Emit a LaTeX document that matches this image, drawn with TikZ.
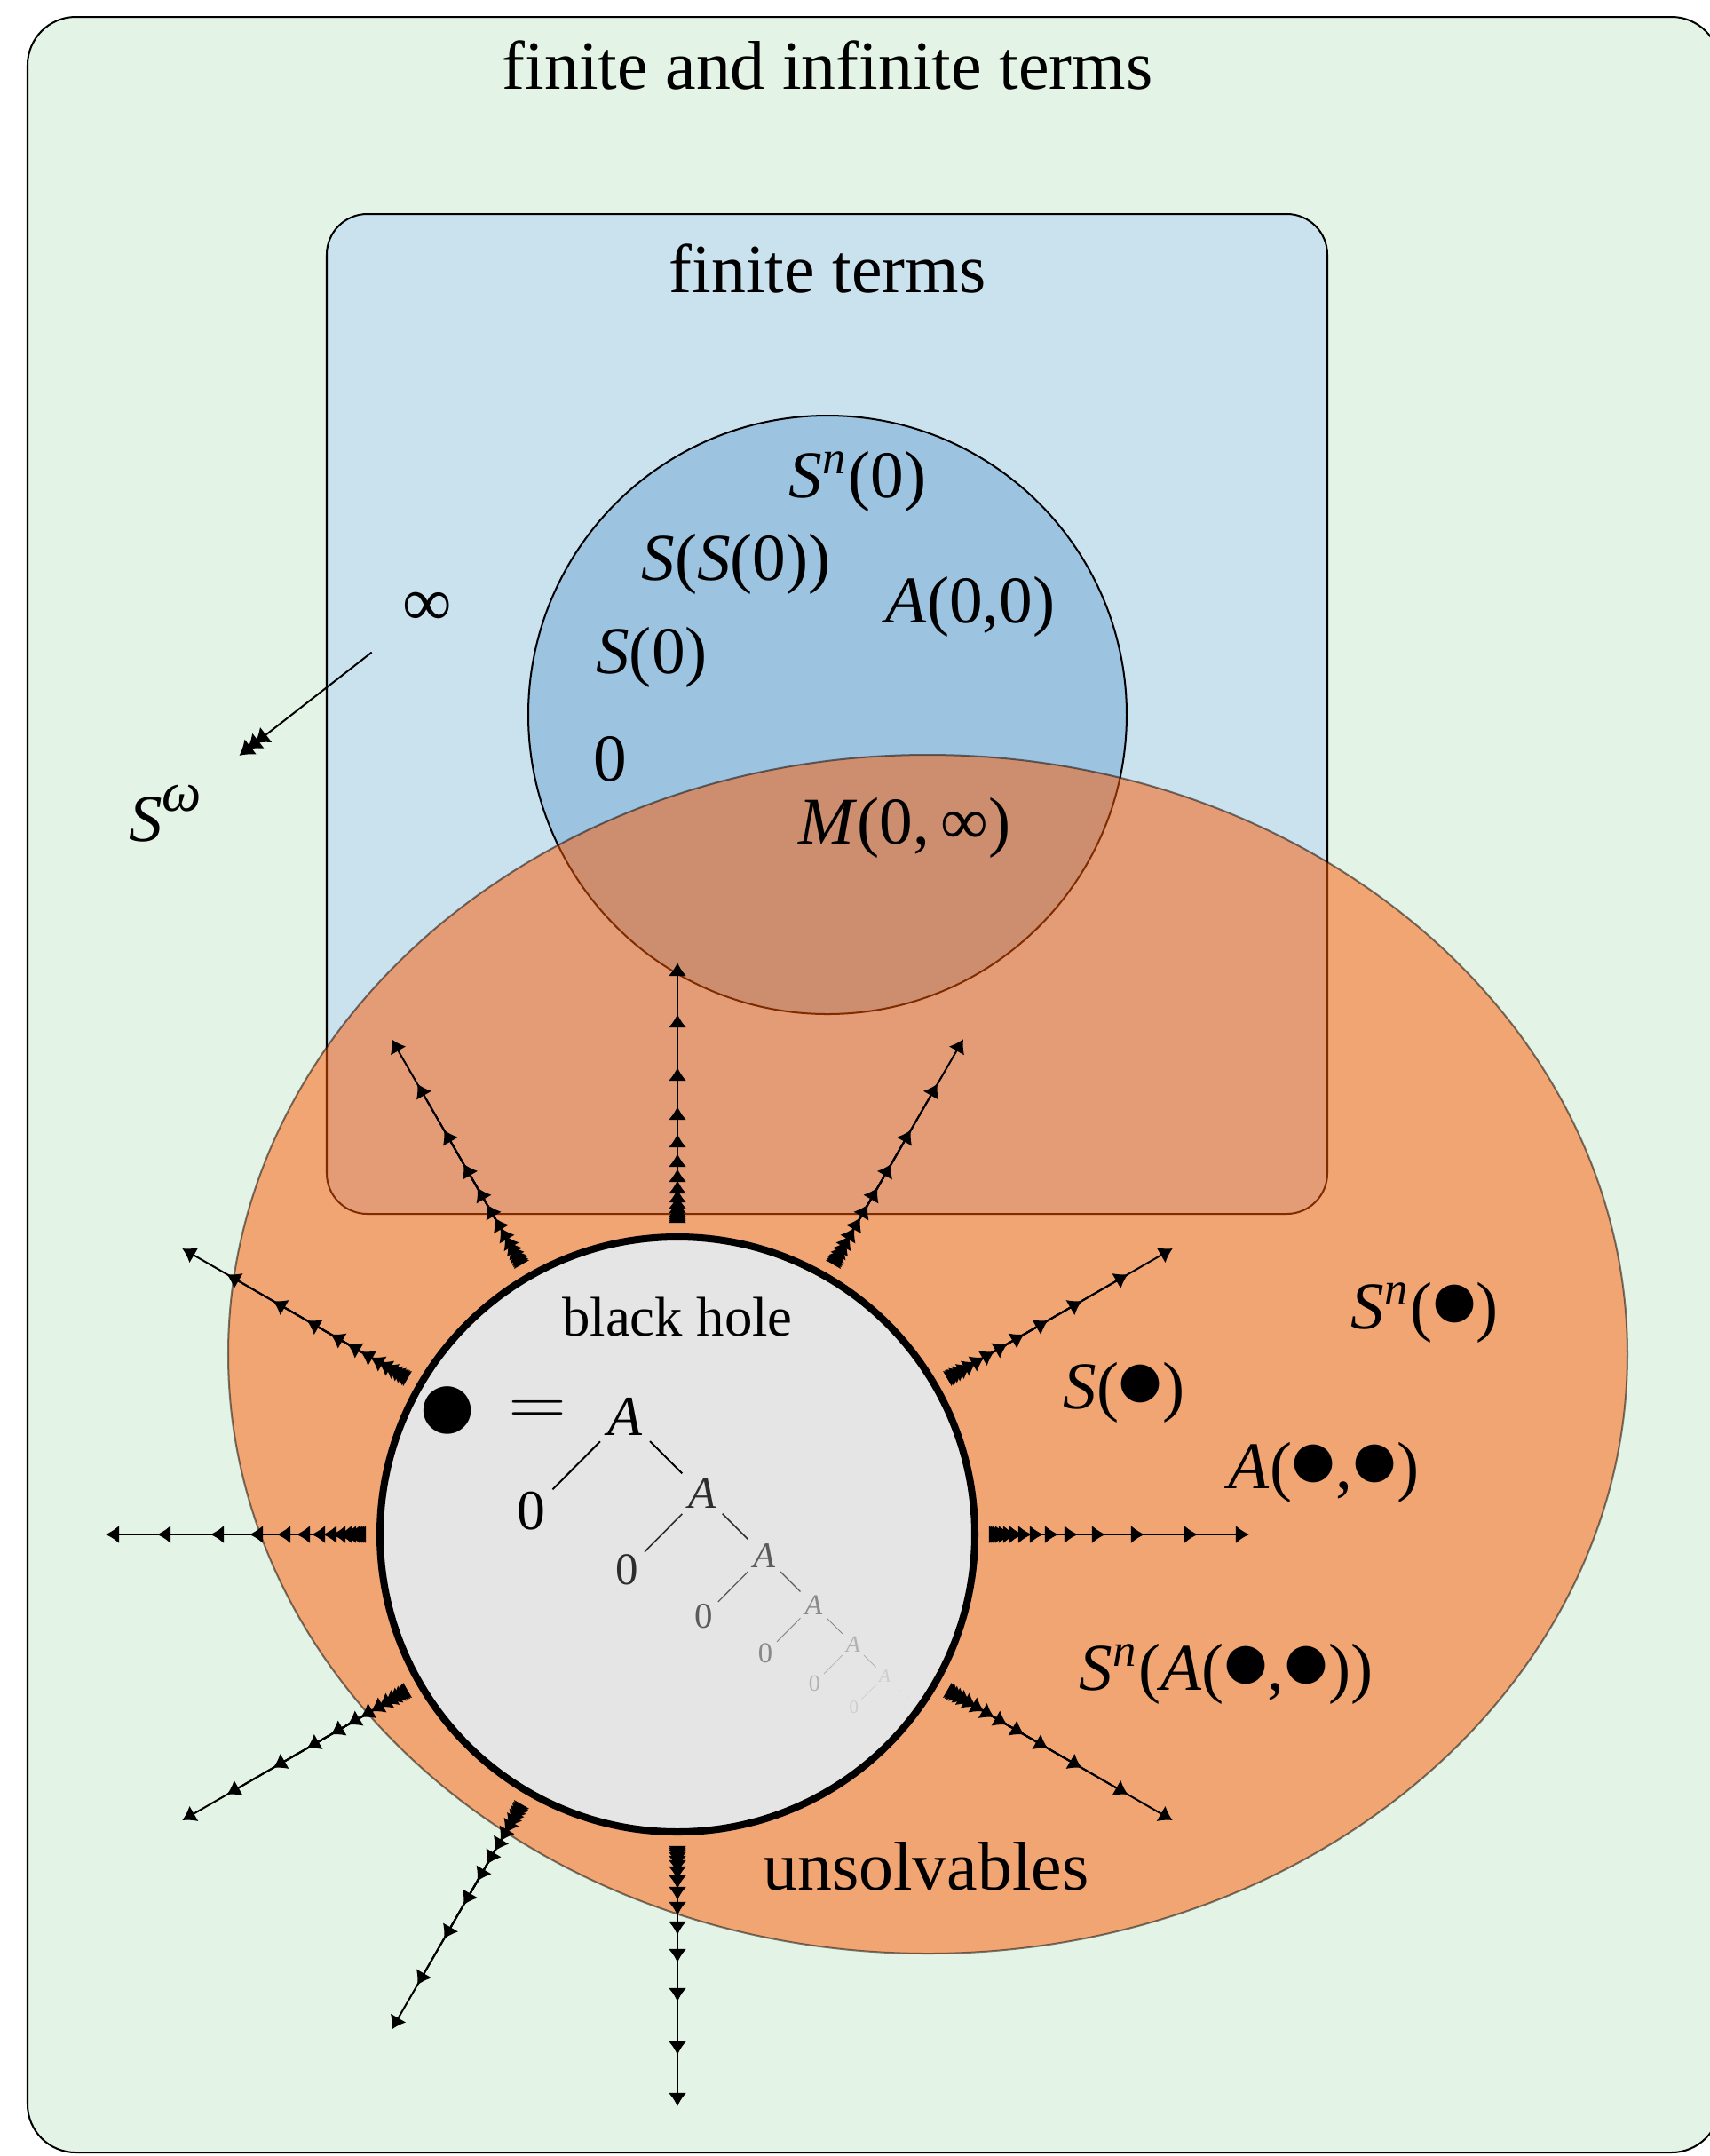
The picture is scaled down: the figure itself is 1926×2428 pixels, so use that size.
\documentclass[tikz,border=0pt]{standalone}
\usepackage{graphicx}
\usepackage{fontspec}
\setmainfont{Liberation Serif}
\usetikzlibrary{arrows.meta,positioning,calc}

\definecolor{allGreen}{RGB}{227,243,229}
\definecolor{finBlue}{RGB}{202,225,238}
\definecolor{natBlue}{RGB}{156,195,224}
\definecolor{unsOrange}{RGB}{254,88,0}
\definecolor{holeGray}{RGB}{229,229,229}

\newcommand{\tv}[1]{\textit{#1}}
\newcommand{\up}[1]{\textsuperscript{\textit{#1}}}
\newcommand{\bh}{\kern-0.07em\scalebox{1.32}{●}\kern-0.07em}

\begin{document}
\begin{tikzpicture}[x=0.007cm,y=0.007cm,>={Latex[length=3pt,width=4pt]},
  every node/.style={font=\fontsize{15.5}{18}\selectfont},
  term/.style={font=\fontsize{15}{18}\selectfont},
  treenode/.style={inner sep=1.5pt},
  limit/.style={-{Latex[length=3.2pt,width=4.4pt,sep=-1pt]Latex[length=3.2pt,width=4.4pt,sep=-1pt]Latex[length=3.2pt,width=4.4pt]}}]
\useasboundingbox (0,0) rectangle (1926,-2428);
% regions
\draw[fill=allGreen,rounded corners=0.38cm] (31,-19) rectangle (1937,-2424);
\draw[fill=finBlue,rounded corners=0.32cm] (368,-241) rectangle (1495,-1367);
\draw[fill=natBlue] (932,-805) circle (337);
\draw[opacity=0.5,fill=unsOrange] (1045,-1525) ellipse [x radius=788,y radius=675];
\node (allT) at (932,-73) {finite and infinite terms};
\node (finT) at (932,-302) {finite terms};
% black hole
\coordinate (hole) at (763,-1728);
\draw[ultra thick,fill=holeGray] (hole) circle (335);
\foreach \a in {0,30,60,90,120,150,180,210,240,270,330}
  \foreach \d in {283,225,165,121,90,68,51,38,28,21,16,12,9,7,5}
    \draw[->] (hole) ++(\a:361) -- ++(\a:\d);
\node[font=\fontsize{12.5}{15}\selectfont] (holeT) at (763,-1483) {black hole};
% the infinite term A(0,A(0,...))
\node[inner sep=0pt] (bul) at (504,-1593) {\scalebox{1.6}{●}};
\node[inner sep=0pt] (eq) at (606,-1590) {\scalebox{1.2}[1]{$=$}};
\foreach \k/\op in {0/1,1/0.8,2/0.6,3/0.4,4/0.22,5/0.1}{
  \pgfmathsetmacro\s{0.8^\k}
  \pgfmathsetmacro\fs{12.7*\s}
  \pgfmathsetmacro\off{435*(1-\s)}
  \node[treenode,inner sep=\s*1.5pt,opacity=\op,font=\fontsize{\fs}{\fs}\selectfont] (tA\k) at (704+\off,-1595-\off) {\tv{A}};
  \node[treenode,inner sep=\s*1.5pt,opacity=\op,font=\fontsize{\fs}{\fs}\selectfont] (tZ\k) at ($(tA\k)+(-106*\s,-107*\s)$) {0};
  \draw[opacity=\op,line width=\s*0.4pt] (tA\k) -- (tZ\k);
}
\foreach \k/\j/\op in {0/1/1,1/2/0.8,2/3/0.6,3/4/0.4,4/5/0.22}
  \draw[opacity=\op,line width=0.8^\k*0.4pt] (tA\k) -- (tA\j);
\coordinate (tEnd) at (1030,-1918);
\draw[dotted,opacity=0.1,line width=0.15pt] (tA5) -- (tEnd);
% finite terms
\node[term] (sn0) at (966,-542) {\tv{S}\up{n}(0)};
\node[term] (ss0) at (829,-635) {\tv{S}(\tv{S}(0))};
\node[term] (a00) at (1093,-683) {\tv{A}(0,0)};
\node[term] (s0) at (734,-740) {\tv{S}(0)};
\node[term] (zero) at (687,-855) {0};
\node[term] (minf) at (1019,-932) {\tv{M}(0,\,∞)};
% infinite terms
\node (inf) at (481,-686) {∞};
\node[term] (somega) at (186,-916) {\tv{S}\raisebox{0.45em}{\fontsize{12.5}{12.5}\selectfont\textit{ω}}};
\draw[limit,shorten <=0.15cm,shorten >=0.22cm] (inf) -- (somega);
% unsolvables
\node[term] (snb) at (1605,-1478) {\tv{S}\up{n}(\bh)};
\node[term] (sb) at (1266,-1568) {\tv{S}(\bh)};
\node[term] (abb) at (1491,-1658) {\tv{A}(\bh,\bh)};
\node[term] (snabb) at (1381,-1885) {\tv{S}\up{n}(\tv{A}(\bh,\bh))};
\node (unsT) at (1043,-2102) {unsolvables};
\end{tikzpicture}
\end{document}
